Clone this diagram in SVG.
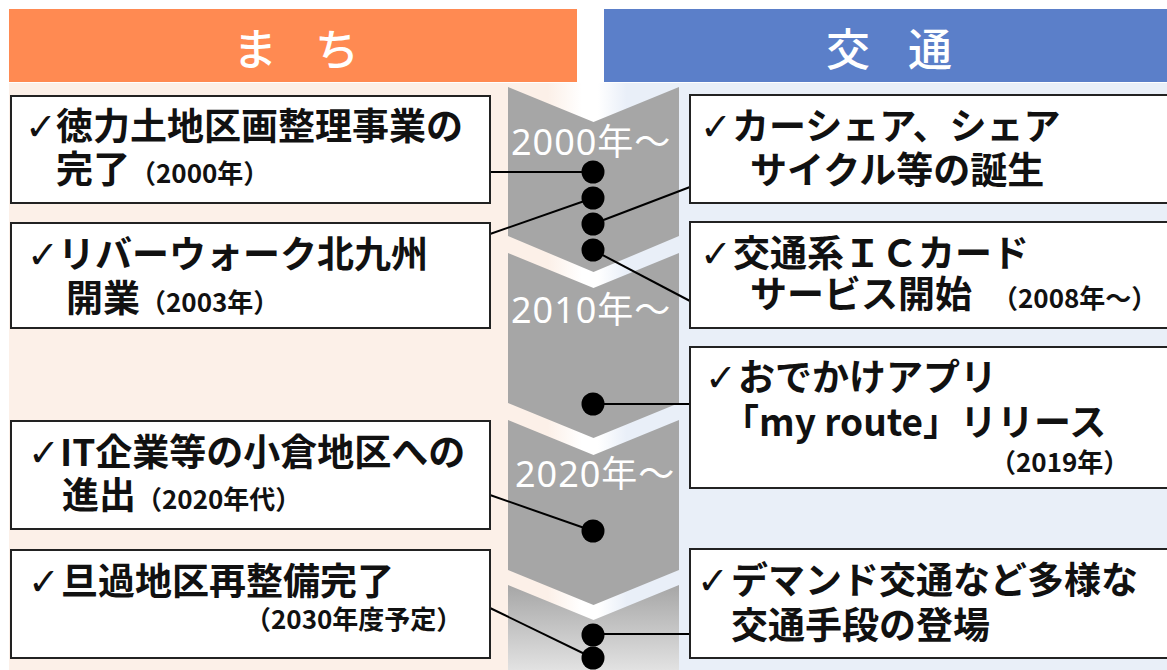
<svg xmlns="http://www.w3.org/2000/svg" width="1167" height="670" viewBox="0 0 1167 670">
<style>
.hdr{font-family:"Noto Sans CJK JP","Noto Sans",sans-serif;font-size:44px;font-weight:500;fill:#fff}
.box{fill:#fff;stroke:#222;stroke-width:2}
.t{font-family:"Noto Sans CJK JP","Noto Sans",sans-serif;font-size:37px;font-weight:bold;fill:#111}
.s{font-size:26px}
.ck{font-family:"DejaVu Sans","Noto Sans CJK JP",sans-serif;font-size:38px;font-weight:normal}
.yr{font-family:"Noto Sans","Noto Sans CJK JP",sans-serif;font-size:36px;font-weight:normal;fill:#fff;letter-spacing:1px}
.chev{fill:#a6a6a6}
.ln{stroke:#000;stroke-width:2;fill:none}
.dot{fill:#000}
</style>
<defs>
<linearGradient id="gl" x1="0" y1="0" x2="1" y2="0">
<stop offset="0" stop-color="#fcf0e8"/><stop offset="0.94" stop-color="#fcf0e8"/><stop offset="1" stop-color="#ffffff"/>
</linearGradient>
<linearGradient id="gr" x1="0" y1="0" x2="1" y2="0">
<stop offset="0" stop-color="#ffffff"/><stop offset="0.05" stop-color="#e9eff8"/><stop offset="1" stop-color="#e9eff8"/>
</linearGradient>
<linearGradient id="gc" x1="0" y1="0" x2="0" y2="1">
<stop offset="0" stop-color="#a6a6a6"/><stop offset="1" stop-color="#e2e2e2"/>
</linearGradient>
</defs>
<rect width="1167" height="670" fill="#fff"/>
<rect x="9" y="83" width="573" height="587" fill="url(#gl)"/>
<rect x="598" y="83" width="569" height="587" fill="url(#gr)"/>
<g id="header-machi">
<rect x="9" y="9" width="568" height="73" fill="#ff8a52"/>
<text class="hdr" y="66"><tspan x="233">ま</tspan><tspan x="315">ち</tspan></text>
</g>
<g id="header-koutsu">
<rect x="604" y="9" width="563" height="73" fill="#5b7fc9"/>
<text class="hdr" y="66"><tspan x="826">交</tspan><tspan x="908">通</tspan></text>
</g>
<g id="timeline">
<polygon class="chev" points="508,87 593.5,122 679,87 679,236 593.5,272 508,236"/>
<polygon class="chev" points="508,253 593.5,288 679,253 679,403 593.5,438 508,403"/>
<polygon class="chev" points="508,420 593.5,455 679,420 679,570 593.5,605 508,570"/>
<polygon points="508,585 593.5,620 679,585 679,670 508,670" fill="url(#gc)"/>
<text class="yr" x="511" y="155">2000年～</text>
<text class="yr" x="511" y="323">2010年～</text>
<text class="yr" x="515" y="487">2020年～</text>
</g>
<g id="connectors">
<line class="ln" x1="490" y1="172" x2="593" y2="172"/>
<line class="ln" x1="490" y1="234" x2="593" y2="198"/>
<line class="ln" x1="690" y1="187" x2="593" y2="224"/>
<line class="ln" x1="690" y1="301" x2="593" y2="250"/>
<line class="ln" x1="690" y1="404" x2="593" y2="404"/>
<line class="ln" x1="490" y1="495" x2="593" y2="531"/>
<line class="ln" x1="690" y1="634" x2="593" y2="634"/>
<line class="ln" x1="490" y1="608" x2="593" y2="658"/>
<circle class="dot" cx="593" cy="172" r="11.5"/>
<circle class="dot" cx="593" cy="198" r="11.5"/>
<circle class="dot" cx="593" cy="224" r="11.5"/>
<circle class="dot" cx="593" cy="250" r="11.5"/>
<circle class="dot" cx="593" cy="404" r="11.5"/>
<circle class="dot" cx="593" cy="531" r="11.5"/>
<circle class="dot" cx="593" cy="635" r="11.5"/>
<circle class="dot" cx="593" cy="658" r="11.5"/>
</g>
<g id="node-tokuriki">
<rect class="box" x="11" y="96" width="479" height="107"/>
<text class="t" y="140"><tspan class="ck" x="25">✓</tspan><tspan x="56">徳力土地区画整理事業の</tspan></text>
<text class="t" x="56" y="183">完了<tspan class="s">（2000年）</tspan></text>
</g>
<g id="node-riverwalk">
<rect class="box" x="11" y="223" width="479" height="105"/>
<text class="t" y="268"><tspan class="ck" x="27">✓</tspan><tspan x="58">リバーウォーク北九州</tspan></text>
<text class="t" x="66" y="312">開業<tspan class="s">（2003年）</tspan></text>
</g>
<g id="node-it">
<rect class="box" x="11" y="421" width="479" height="108"/>
<text class="t" y="466"><tspan class="ck" x="28">✓</tspan><tspan x="60">IT企業等の小倉地区への</tspan></text>
<text class="t" x="62" y="509">進出<tspan class="s">（2020年代）</tspan></text>
</g>
<g id="node-tanga">
<rect class="box" x="11" y="550" width="479" height="108"/>
<text class="t" y="595"><tspan class="ck" x="28">✓</tspan><tspan x="61">旦過地区再整備完了</tspan></text>
<text class="t s" x="245" y="629">（2030年度予定）</text>
</g>
<g id="node-carshare">
<rect class="box" x="690" y="95" width="480" height="108"/>
<text class="t" y="140"><tspan class="ck" x="700">✓</tspan><tspan x="732">カーシェア、シェア</tspan></text>
<text class="t" x="750" y="184">サイクル等の誕生</text>
</g>
<g id="node-iccard">
<rect class="box" x="690" y="222" width="480" height="106"/>
<text class="t" y="267"><tspan class="ck" x="700">✓</tspan><tspan x="733">交通系ＩＣカード</tspan></text>
<text class="t" y="308"><tspan x="750">サービス開始</tspan><tspan class="s" x="992">（2008年～）</tspan></text>
</g>
<g id="node-myroute">
<rect class="box" x="690" y="347" width="480" height="141"/>
<text class="t" y="391"><tspan class="ck" x="705">✓</tspan><tspan x="738">おでかけアプリ</tspan></text>
<text class="t" x="722" y="436">「my route」リリース</text>
<text class="t s" x="990" y="472">（2019年）</text>
</g>
<g id="node-demand">
<rect class="box" x="690" y="549" width="480" height="109"/>
<text class="t" y="594"><tspan class="ck" x="697">✓</tspan><tspan x="731">デマンド交通など多様な</tspan></text>
<text class="t" x="731" y="639">交通手段の登場</text>
</g>
</svg>
